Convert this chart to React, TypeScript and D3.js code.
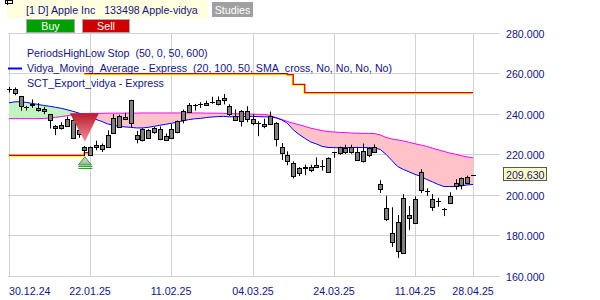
import React from 'react';
import * as d3 from 'd3';

// ---- data ----
const tickLabels = ['30.12.24', '22.01.25', '11.02.25', '04.03.25', '24.03.25', '11.04.25', '28.04.25'];
const tickIndex = [0, 14, 28, 42, 56, 70, 80];
const priceTicks = [160, 180, 200, 220, 240, 260, 280];

const open = [252.23, 252.44, 248.93, 243.36, 244.31, 242.98, 241.92, 240.01, 233.53, 234.75,
  234.64, 237.35, 232.12, 224.0, 219.79, 224.74, 224.78, 224.02, 230.85, 234.12,
  238.67, 247.19, 229.99, 227.25, 228.53, 231.29, 232.6, 229.57, 228.2, 231.2,
  236.91, 241.25, 244.15, 244.66, 244.94, 245.95, 244.93, 248.0, 244.33, 239.41,
  236.95, 241.79, 237.71, 235.42, 234.44, 235.11, 235.54, 223.81, 220.14, 215.95,
  211.25, 213.31, 214.16, 214.22, 213.99, 211.56, 221.0, 220.77, 223.51, 221.39,
  221.67, 217.01, 219.81, 221.32, 205.54, 193.89, 177.2, 186.7, 171.95, 189.07,
  186.1, 211.44, 201.86, 198.36, 197.2, 193.27, 196.12, 206.0, 204.89, 206.37, 209.8];
const high = [253.5, 253.28, 249.1, 244.18, 247.33, 245.55, 243.71, 240.16, 234.67, 236.12,
  238.96, 238.01, 232.29, 224.42, 224.12, 227.03, 225.63, 232.15, 240.19, 239.86,
  240.79, 247.19, 231.83, 233.13, 232.67, 233.8, 234.0, 230.59, 235.23, 236.96,
  242.34, 245.55, 245.18, 246.01, 246.78, 248.69, 248.86, 250.0, 244.98, 242.46,
  242.09, 244.03, 240.07, 236.55, 237.86, 241.37, 236.16, 225.84, 221.75, 216.84,
  213.95, 215.22, 215.15, 218.76, 217.49, 218.84, 221.48, 224.1, 225.02, 224.99,
  223.81, 225.62, 223.68, 225.19, 207.49, 199.88, 194.15, 190.34, 200.61, 194.78,
  199.54, 212.94, 203.51, 200.7, 198.83, 193.8, 201.59, 208.0, 208.83, 209.75, 209.95];
const low = [250.75, 249.43, 241.82, 241.89, 243.2, 241.35, 240.05, 233.0, 229.72, 232.47,
  234.43, 228.03, 228.48, 219.38, 219.79, 222.3, 221.41, 223.98, 230.81, 234.01,
  237.21, 233.44, 225.7, 226.65, 228.27, 230.43, 227.26, 227.2, 228.13, 230.68,
  235.57, 240.99, 241.84, 243.16, 244.29, 245.22, 244.42, 244.91, 239.13, 237.06,
  234.0, 236.11, 234.68, 229.23, 233.16, 234.76, 224.22, 217.45, 214.91, 208.42,
  209.58, 209.97, 211.49, 213.75, 212.22, 211.28, 218.58, 220.08, 220.47, 220.56,
  217.68, 216.23, 218.9, 221.02, 201.25, 187.34, 174.62, 169.21, 171.89, 183.0,
  186.06, 201.16, 199.8, 192.37, 194.42, 189.81, 195.97, 202.8, 202.94, 206.2, 209.55];
const close = [252.2, 250.42, 243.85, 243.36, 245.0, 242.21, 242.7, 236.85, 234.4, 233.28,
  237.87, 228.26, 229.98, 222.64, 223.83, 223.66, 222.78, 229.86, 238.26, 239.36,
  237.59, 236.0, 228.01, 232.8, 232.47, 233.22, 227.63, 227.65, 232.62, 236.87,
  241.53, 244.6, 244.47, 244.87, 245.83, 245.55, 247.1, 247.04, 240.36, 237.3,
  241.84, 238.03, 235.93, 235.74, 235.33, 239.07, 227.48, 220.84, 216.98, 209.68,
  213.49, 214.0, 212.69, 215.24, 214.1, 218.27, 220.73, 223.75, 221.53, 223.85,
  217.9, 222.13, 223.19, 223.89, 203.19, 188.38, 181.46, 172.42, 198.85, 190.42,
  198.15, 202.52, 202.14, 194.27, 196.98, 193.16, 199.74, 204.6, 208.37, 209.28, 209.63];

const vidya = [245.7, 246.2, 246.2, 245.9, 245.4, 244.9, 244.4, 244.0, 243.5, 243.0,
  242.3, 241.5, 240.7, 239.5, 238.5, 237.5, 236.5, 235.3, 234.6, 234.1,
  233.8, 233.6, 233.3, 233.3, 233.6, 234.1, 234.6, 235.1, 235.6, 236.2,
  236.8, 237.4, 237.8, 238.0, 238.4, 238.7, 238.9, 239.0, 238.8, 238.8,
  238.9, 239.0, 239.0, 238.9, 238.8, 238.7, 238.3, 237.3, 235.6, 232.4,
  230.1, 228.2, 226.4, 225.4, 224.2, 223.7, 223.6, 223.5, 223.6, 223.6,
  223.7, 223.6, 223.6, 223.5, 222.7, 220.3, 217.3, 214.3, 212.8, 211.6,
  210.4, 209.4, 207.9, 206.7, 205.4, 204.4, 204.4, 204.4, 204.7, 205.2, 205.4];
const sma = [237.9, 237.9, 237.9, 237.9, 237.9, 237.9, 238.0, 238.2, 238.5, 238.9,
  239.3, 239.8, 240.3, 240.4, 240.5, 240.5, 240.5, 240.6, 240.6, 240.6,
  240.6, 240.6, 240.6, 240.7, 240.7, 240.7, 240.7, 240.7, 240.7, 240.7,
  240.7, 240.7, 240.7, 240.7, 240.6, 240.6, 240.6, 240.5, 240.4, 240.3,
  240.3, 240.2, 240.1, 240.0, 240.0, 239.5, 238.5, 237.5, 236.5, 235.6,
  234.9, 234.1, 233.2, 232.6, 232.0, 231.5, 231.3, 231.1, 231.0, 230.8,
  230.7, 230.6, 230.6, 230.5, 229.9, 228.6, 227.9, 227.4, 226.9, 226.2,
  225.5, 224.9, 224.2, 223.3, 222.5, 221.7, 220.9, 220.3, 219.6, 219.0, 218.6];

// stop levels: [bar index where level starts, level]
const stopLong: [number, number][] = [[0, 219.8], [13, 221.1], [14, 221.1]];
const stopShort: [number, number][] = [[13, 260.1], [48, 259.6], [49, 254.8], [51, 250.7], [80, 250.7]];

const sellSignal = { index: 13, top: 240.5, apex: 226.5 };
const buySignal = { index: 13, apex: 219.0 };
const lastPrice = 209.63;

const headerText = '[1 D] Apple Inc   133498 Apple-vidya';
const legendLines = [
  'PeriodsHighLow Stop  (50, 0, 50, 600)',
  'Vidya_Moving_Average - Express  (20, 100, 50, SMA_cross, No, No, No, No)',
  'SCT_Export_vidya - Express',
];

const FONT = "'Liberation Sans', Arial, sans-serif";
const TXT = '#14147f';

export default function App() {
  const x = d3.scaleLinear().domain([0, 80]).range([9, 473]);
  const y = d3.scaleLinear().domain([160, 280]).range([276.5, 33.3]);
  const idx = d3.range(close.length);

  const lineV = d3.line<number>().x(i => x(i)).y(i => y(vidya[i]));
  const lineS = d3.line<number>().x(i => x(i)).y(i => y(sma[i]));
  const greenArea = d3.area<number>().x(i => x(i)).y0(i => y(sma[i])).y1(i => y(Math.max(vidya[i], sma[i])));
  const pinkArea = d3.area<number>().x(i => x(i)).y0(i => y(vidya[i])).y1(i => y(Math.max(vidya[i], sma[i])));
  const stepLine = d3.line<[number, number]>().x(d => x(d[0])).y(d => y(d[1])).curve(d3.curveStepAfter);

  const crisp = (v: number) => Math.floor(v) + 0.5;

  const sx = x(sellSignal.index);
  const bx = x(buySignal.index);
  const by = y(buySignal.apex);

  return (
    <svg width={600} height={300} style={{ position: 'absolute', left: 0, top: 0, background: '#fff' }}
      fontFamily={FONT}>
      <defs>
        <linearGradient id="sellGrad" x1="0" y1="0" x2="0" y2="1">
          <stop offset="0%" stopColor="#b81c2c" />
          <stop offset="100%" stopColor="#f2909c" />
        </linearGradient>
        <linearGradient id="buyGrad" x1="0" y1="0" x2="0" y2="1">
          <stop offset="0%" stopColor="#d8e8d8" />
          <stop offset="100%" stopColor="#98b498" />
        </linearGradient>
      </defs>

      {/* grid */}
      {priceTicks.map(v => (
        <line key={'h' + v} x1={8} x2={500} y1={crisp(y(v))} y2={crisp(y(v))} stroke="#d2d2d2" strokeWidth={1} />
      ))}
      {tickIndex.map(i => (
        <line key={'v' + i} x1={Math.round(x(i)) + 0.5} x2={Math.round(x(i)) + 0.5}
          y1={crisp(y(280))} y2={crisp(y(160))} stroke="#d2d2d2" strokeWidth={1} />
      ))}

      {/* vidya bands */}
      <path d={greenArea(idx) || ''} fill="#c2f4c2" />
      <path d={pinkArea(idx) || ''} fill="#ffc2c8" />
      <path d={lineS(idx) || ''} fill="none" stroke="#ff00ff" strokeWidth={1} />
      <path d={lineV(idx) || ''} fill="none" stroke="#0000ff" strokeWidth={1} />

      {/* stops */}
      {[stopLong, stopShort].map((s, k) => (
        <g key={'st' + k}>
          <path d={stepLine(s) || ''} fill="none" stroke="#ffff00" strokeWidth={1.3} transform="translate(-1,1)" />
          <path d={stepLine(s) || ''} fill="none" stroke="#dd0000" strokeWidth={1.3} />
        </g>
      ))}

      {/* candles */}
      {idx.map(i => {
        const cx = Math.round(x(i)) + 0.5;
        const yo = y(open[i]);
        const yc = y(close[i]);
        const top = Math.min(yo, yc);
        const h = Math.abs(yo - yc);
        return (
          <g key={'c' + i}>
            <line x1={cx} x2={cx} y1={y(high[i])} y2={y(low[i])} stroke="#000" strokeWidth={1} />
            {h < 1.2 ? (
              <line x1={cx - 2.5} x2={cx + 2.5} y1={crisp(top)} y2={crisp(top)} stroke="#000" strokeWidth={1} />
            ) : (
              <rect x={cx - 2} y={Math.round(top) + 0.5} width={4} height={Math.max(1, Math.round(h))}
                fill="#808080" stroke="#000" strokeWidth={1} />
            )}
          </g>
        );
      })}

      {/* signals */}
      <polygon points={`${sx - 14.5},${y(sellSignal.top)} ${sx + 14.5},${y(sellSignal.top)} ${sx + 0.5},${y(sellSignal.apex)}`}
        fill="url(#sellGrad)" />
      <polygon points={`${bx + 0.5},${by} ${bx + 7},${by + 8} ${bx - 6},${by + 8}`} fill="url(#buyGrad)" stroke="#2c9a2c" strokeWidth={1} />
      <line x1={bx - 6} x2={bx + 8} y1={by + 9.5} y2={by + 9.5} stroke="#1f9a1f" strokeWidth={1} />
      <line x1={bx - 6} x2={bx + 8} y1={by + 11.5} y2={by + 11.5} stroke="#1f9a1f" strokeWidth={1} />

      {/* y axis labels */}
      {priceTicks.map(v => (
        <text key={'yl' + v} x={506} y={crisp(y(v)) + 4} fontSize={10.67} fill={TXT}>{v.toFixed(3)}</text>
      ))}
      {/* x axis labels */}
      {tickIndex.map((i, k) => (
        <text key={'xl' + i} x={k === 0 ? 9 : Math.round(x(i))} y={295} fontSize={10.67} fill={TXT}
          textAnchor={k === 0 ? 'start' : 'middle'}>{tickLabels[k]}</text>
      ))}

      {/* last price label */}
      <rect x={503.5} y={Math.round(y(lastPrice)) - 8.5} width={43} height={13} fill="#ffffc0" stroke="#555" strokeWidth={1} />
      <text x={506} y={Math.round(y(lastPrice)) + 2.5} fontSize={10.67} fill={TXT}>{lastPrice.toFixed(3)}</text>

      {/* header */}
      <rect x={7} y={0} width={201} height={18} fill="#ffffe0" />
      <text x={26} y={14} fontSize={10.67} fill={TXT} style={{ whiteSpace: 'pre' }}>{headerText}</text>
      <rect x={212} y={2} width={41} height={15} fill="#a0a0a0" />
      <text x={232.5} y={14} fontSize={10.67} fill="#fff" textAnchor="middle">Studies</text>
      <rect x={26.5} y={19.5} width={48} height={13} fill="#00a000" stroke="#a8a8a8" strokeWidth={1} />
      <text x={50.5} y={29.5} fontSize={10.67} fill="#fff" textAnchor="middle">Buy</text>
      <rect x={82.5} y={19.5} width={47} height={13} fill="#cc0000" stroke="#a8a8a8" strokeWidth={1} />
      <text x={106} y={29.5} fontSize={10.67} fill="#fff" textAnchor="middle">Sell</text>
      <rect x={5.5} y={0.5} width={7} height={3} fill="none" stroke="#000" strokeWidth={1} />
      <line x1={7.5} x2={7.5} y1={0} y2={5} stroke="#000" strokeWidth={1} />

      {/* legend */}
      <line x1={8} x2={22} y1={68.5} y2={68.5} stroke="#0000ff" strokeWidth={2} />
      {legendLines.map((t, k) => (
        <text key={'lg' + k} x={27} y={57.3 + k * 14.7} fontSize={10.67} fill={TXT} style={{ whiteSpace: 'pre' }}>{t}</text>
      ))}
    </svg>
  );
}
